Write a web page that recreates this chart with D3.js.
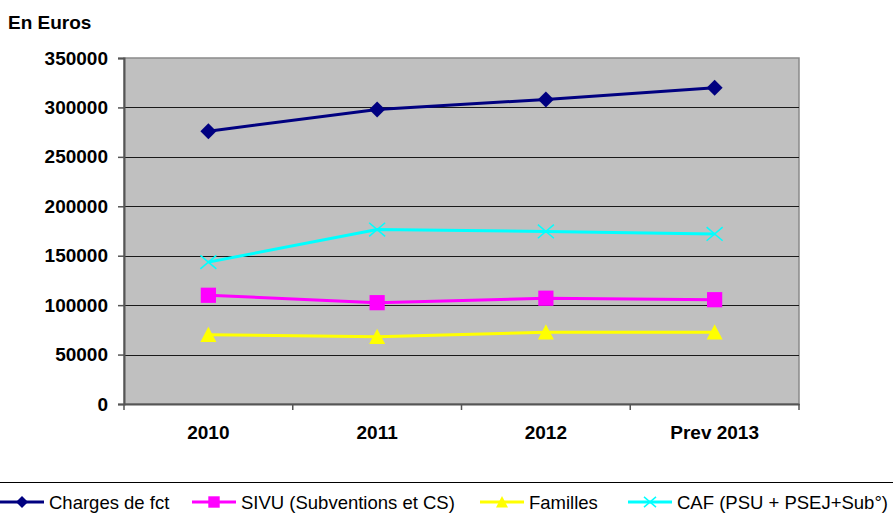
<!DOCTYPE html>
<html>
<head>
<meta charset="utf-8">
<script src="https://cdn.jsdelivr.net/npm/d3@7"></script>
<style>
  html, body { margin: 0; padding: 0; background: #fff; }
  svg { display: block; font-family: "Liberation Sans", Arial, sans-serif; }
</style>
</head>
<body>
<svg id="chart" width="893" height="523"></svg>
<script>
// values
const years = ['2010', '2011', '2012', 'Prev 2013'];
const charges = [276000, 298000, 308000, 320000];
const sivu = [110000, 102500, 107000, 105500];
const familles = [70000, 68000, 72500, 72500];
const caf = [143500, 176500, 174500, 172000];
const yTicks = [0, 50000, 100000, 150000, 200000, 250000, 300000, 350000];

const series = [
  { name: 'Charges de fct', values: charges, color: '#000080', symbol: 'diamond' },
  { name: 'SIVU (Subventions et CS)', values: sivu, color: '#FF00FF', symbol: 'square' },
  { name: 'Familles', values: familles, color: '#FFFF00', symbol: 'triangle' },
  { name: 'CAF (PSU + PSEJ+Sub°)', values: caf, color: '#00FFFF', symbol: 'cross' }
];

const svg = d3.select('#chart');
const plot = { left: 124, right: 799, top: 58, bottom: 404 };

const x = d3.scaleBand().domain(years).range([plot.left, plot.right]);
const y = d3.scaleLinear().domain([0, 350000]).range([plot.bottom, plot.top]);

// plot background
svg.append('rect')
  .attr('x', plot.left).attr('y', plot.top)
  .attr('width', plot.right - plot.left).attr('height', plot.bottom - plot.top)
  .attr('fill', '#C0C0C0').attr('stroke', '#8a8a8a').attr('stroke-width', 1.5);

// gridlines
svg.append('g').selectAll('line').data(yTicks.filter(t => t > 0 && t < 350000)).enter()
  .append('line')
  .attr('x1', plot.left).attr('x2', plot.right)
  .attr('y1', d => Math.round(y(d)) + 0.5).attr('y2', d => Math.round(y(d)) + 0.5)
  .attr('stroke', '#1a1a1a').attr('stroke-width', 1);

// y axis
const yAxis = svg.append('g')
  .attr('transform', `translate(${plot.left},0)`)
  .call(d3.axisLeft(y).tickValues(yTicks).tickSize(6).tickPadding(10).tickFormat(d3.format('d')));
yAxis.select('.domain').attr('stroke', '#555').attr('stroke-width', 2);
yAxis.selectAll('.tick line').attr('stroke', '#555').attr('stroke-width', 1.5);
yAxis.selectAll('.tick text')
  .attr('font-size', '19px').attr('font-weight', 'bold').attr('fill', '#000')
  .attr('font-family', '"Liberation Sans", Arial, sans-serif');

// x axis
const xAxis = svg.append('g')
  .attr('transform', `translate(0,${plot.bottom})`)
  .call(d3.axisBottom(x).tickSize(0).tickPadding(22));
xAxis.select('.domain').attr('stroke', '#555').attr('stroke-width', 2);
xAxis.selectAll('.tick text')
  .attr('font-size', '19px').attr('font-weight', 'bold').attr('fill', '#000')
  .attr('font-family', '"Liberation Sans", Arial, sans-serif');
// category separators below the axis
svg.append('g').selectAll('line').data(years.concat(['end'])).enter()
  .append('line')
  .attr('x1', (d, i) => i < years.length ? x(d) : plot.right)
  .attr('x2', (d, i) => i < years.length ? x(d) : plot.right)
  .attr('y1', plot.bottom).attr('y2', plot.bottom + 6)
  .attr('stroke', '#555').attr('stroke-width', 1.5);

// title
svg.append('text').attr('x', 8).attr('y', 29)
  .attr('font-size', '19px').attr('font-weight', 'bold').text('En Euros');

const cx = d => x(d) + x.bandwidth() / 2;

function drawMarker(g, symbol, color, s) {
  if (symbol === 'diamond') {
    g.append('path').attr('d', `M0,${-s}L${s},0L0,${s}L${-s},0Z`).attr('fill', color);
  } else if (symbol === 'square') {
    g.append('rect').attr('x', -s * 0.95).attr('y', -s * 0.95)
      .attr('width', s * 1.9).attr('height', s * 1.9).attr('fill', color);
  } else if (symbol === 'triangle') {
    g.append('path').attr('d', `M0,${-s}L${s},${s * 0.9}L${-s},${s * 0.9}Z`).attr('fill', color);
  } else {
    g.append('path').attr('d', `M${-s},${-s * 0.85}L${s},${s * 0.85}M${-s},${s * 0.85}L${s},${-s * 0.85}`)
      .attr('stroke', color).attr('stroke-width', 1.5).attr('fill', 'none');
  }
}

const line = d3.line().x((d, i) => cx(years[i])).y(d => y(d));

series.forEach(s => {
  svg.append('path').datum(s.values)
    .attr('d', line).attr('fill', 'none')
    .attr('stroke', s.color).attr('stroke-width', 3);
  s.values.forEach((v, i) => {
    const g = svg.append('g').attr('transform', `translate(${cx(years[i])},${y(v)})`);
    drawMarker(g, s.symbol, s.color, 8);
  });
});

// legend
svg.append('line').attr('x1', 0).attr('x2', 893).attr('y1', 482.5).attr('y2', 482.5)
  .attr('stroke', '#000').attr('stroke-width', 1.2);
const legendX = [0, 192, 480, 628];
series.forEach((s, i) => {
  const g = svg.append('g').attr('transform', `translate(${legendX[i]},502)`);
  g.append('line').attr('x1', 0).attr('x2', 44).attr('y1', 0).attr('y2', 0)
    .attr('stroke', s.color).attr('stroke-width', 3);
  const m = g.append('g').attr('transform', 'translate(22,0)');
  drawMarker(m, s.symbol, s.color, 6);
  g.append('text').attr('x', 49).attr('y', 6.5)
    .attr('font-size', '18.5px').attr('fill', '#000').text(s.name);
});
</script>
</body>
</html>
